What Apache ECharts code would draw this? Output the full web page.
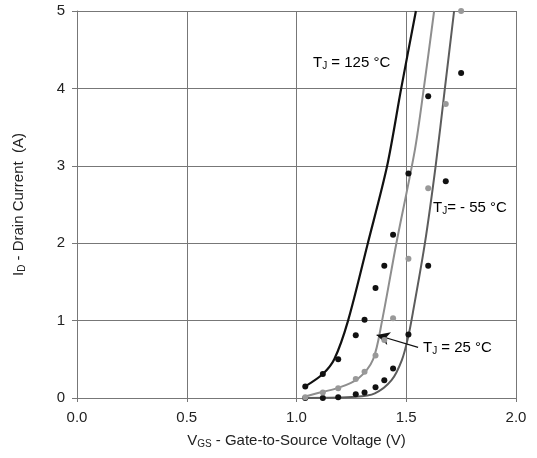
<!DOCTYPE html>
<html>
<head>
<meta charset="utf-8">
<script src="https://cdn.jsdelivr.net/npm/echarts@6/dist/echarts.min.js"></script>
<style>
  html, body { margin: 0; padding: 0; background: #fff; }
  #chart { width: 537px; height: 458px; }
</style>
</head>
<body>
<div id="chart"></div>
<script>
// measured points (Vgs, Id)
const dots125 = [[1.04, 0.15], [1.12, 0.31], [1.19, 0.5], [1.27, 0.81], [1.31, 1.01], [1.36, 1.42], [1.40, 1.71], [1.44, 2.11], [1.51, 2.9], [1.60, 3.9]]
const dots25 = [[1.04, 0.01], [1.12, 0.07], [1.19, 0.125], [1.27, 0.245], [1.31, 0.34], [1.36, 0.55], [1.40, 0.75], [1.44, 1.03], [1.51, 1.8], [1.60, 2.71], [1.68, 3.8], [1.75, 5.0]]
const dotsM55 = [[1.04, 0.0], [1.12, 0.0], [1.19, 0.01], [1.27, 0.05], [1.31, 0.07], [1.36, 0.14], [1.40, 0.23], [1.44, 0.38], [1.51, 0.82], [1.60, 1.71], [1.68, 2.8], [1.75, 4.2]]

// model curves
const curve125 = [[1.04, 0.15], [1.12, 0.31], [1.172, 0.5], [1.235, 1.0], [1.325, 2.0], [1.413, 3.0], [1.477, 4.0], [1.544, 5.0]]
const curve25 = [[1.04, 0.02], [1.12, 0.08], [1.19, 0.13], [1.28, 0.25], [1.349, 0.5], [1.39, 1.0], [1.455, 2.0], [1.539, 3.2], [1.58, 4.0], [1.627, 5.0]]
const curveM55 = [[1.04, 0.0], [1.27, 0.015], [1.357, 0.06], [1.433, 0.23], [1.48, 0.49], [1.509, 0.79], [1.53, 1.1], [1.585, 2.0], [1.634, 3.0], [1.676, 4.0], [1.718, 5.0]]

// arrow pointing at the 25 °C curve
const arrow25 = [[1.554, 0.655], [1.365, 0.814]]

const font = 'Liberation Sans, Arial, sans-serif'
const gridColor = '#777'
const rich = {
  n: { fontSize: 15, fontFamily: font, color: '#222' },
  s: { fontSize: 10, fontFamily: font, color: '#222', padding: [7, 0, 0, 0] }
}

const myChart = echarts.init(document.getElementById('chart'))

const options = {
  animation: false,
  grid: { left: 77, right: 21, top: 11, bottom: 60 },
  xAxis: {
    type: 'value',
    min: 0,
    max: 2,
    interval: 0.5,
    name: '{n|V}{s|GS}{n| - Gate-to-Source Voltage (V)}',
    nameLocation: 'middle',
    nameGap: 34,
    nameTextStyle: { rich },
    axisLine: { lineStyle: { color: gridColor, width: 1 } },
    axisTick: { show: true, length: 4, lineStyle: { color: gridColor } },
    axisLabel: { margin: 12, fontSize: 15, fontFamily: font, color: '#222', formatter: v => v.toFixed(1) },
    splitLine: { show: true, lineStyle: { color: gridColor, width: 1 } }
  },
  yAxis: {
    type: 'value',
    min: 0,
    max: 5,
    interval: 1,
    name: '{n|I}{s|D}{n| - Drain Current  (A)}',
    nameLocation: 'middle',
    nameGap: 50,
    nameTextStyle: { rich },
    axisLine: { show: true, lineStyle: { color: gridColor, width: 1 } },
    axisTick: { show: true, length: 5, lineStyle: { color: gridColor } },
    axisLabel: { margin: 12, fontSize: 15, fontFamily: font, color: '#222' },
    splitLine: { show: true, lineStyle: { color: gridColor, width: 1 } }
  },
  series: [
    {
      name: '125',
      type: 'line',
      data: curve125,
      smooth: 0.3,
      symbol: 'none',
      lineStyle: { color: '#111', width: 2.2 },
      z: 3
    },
    {
      name: '25',
      type: 'line',
      data: curve25,
      smooth: 0.3,
      symbol: 'none',
      lineStyle: { color: '#8e8e8e', width: 2 },
      markLine: {
        silent: true,
        symbol: ['none', 'arrow'],
        symbolSize: [10, 13],
        label: { show: false },
        lineStyle: { color: '#111', width: 1.2, type: 'solid' },
        data: [[{ coord: arrow25[0] }, { coord: arrow25[1] }]]
      },
      z: 3
    },
    {
      name: '-55',
      type: 'line',
      data: curveM55,
      smooth: 0.3,
      symbol: 'none',
      lineStyle: { color: '#5c5c5c', width: 2 },
      z: 3
    },
    {
      type: 'scatter',
      data: dots125,
      symbolSize: 6,
      itemStyle: { color: '#111', opacity: 1 },
      z: 4
    },
    {
      type: 'scatter',
      data: dotsM55,
      symbolSize: 6,
      itemStyle: { color: '#111', opacity: 1 },
      z: 4
    },
    {
      type: 'scatter',
      data: dots25,
      symbolSize: 6,
      itemStyle: { color: '#999', opacity: 1 },
      z: 5
    }
  ],
  graphic: [
    { type: 'text', left: 313, top: 55, style: { text: '{n|T}{s|J}{n| = 125 °C}', rich } },
    { type: 'text', left: 433, top: 200, style: { text: '{n|T}{s|J}{n|= - 55 °C}', rich } },
    { type: 'text', left: 423, top: 340, style: { text: '{n|T}{s|J}{n| = 25 °C}', rich } }
  ]
}

myChart.setOption(options)
window.addEventListener('resize', () => {
  myChart.resize()
})
</script>
</body>
</html>
